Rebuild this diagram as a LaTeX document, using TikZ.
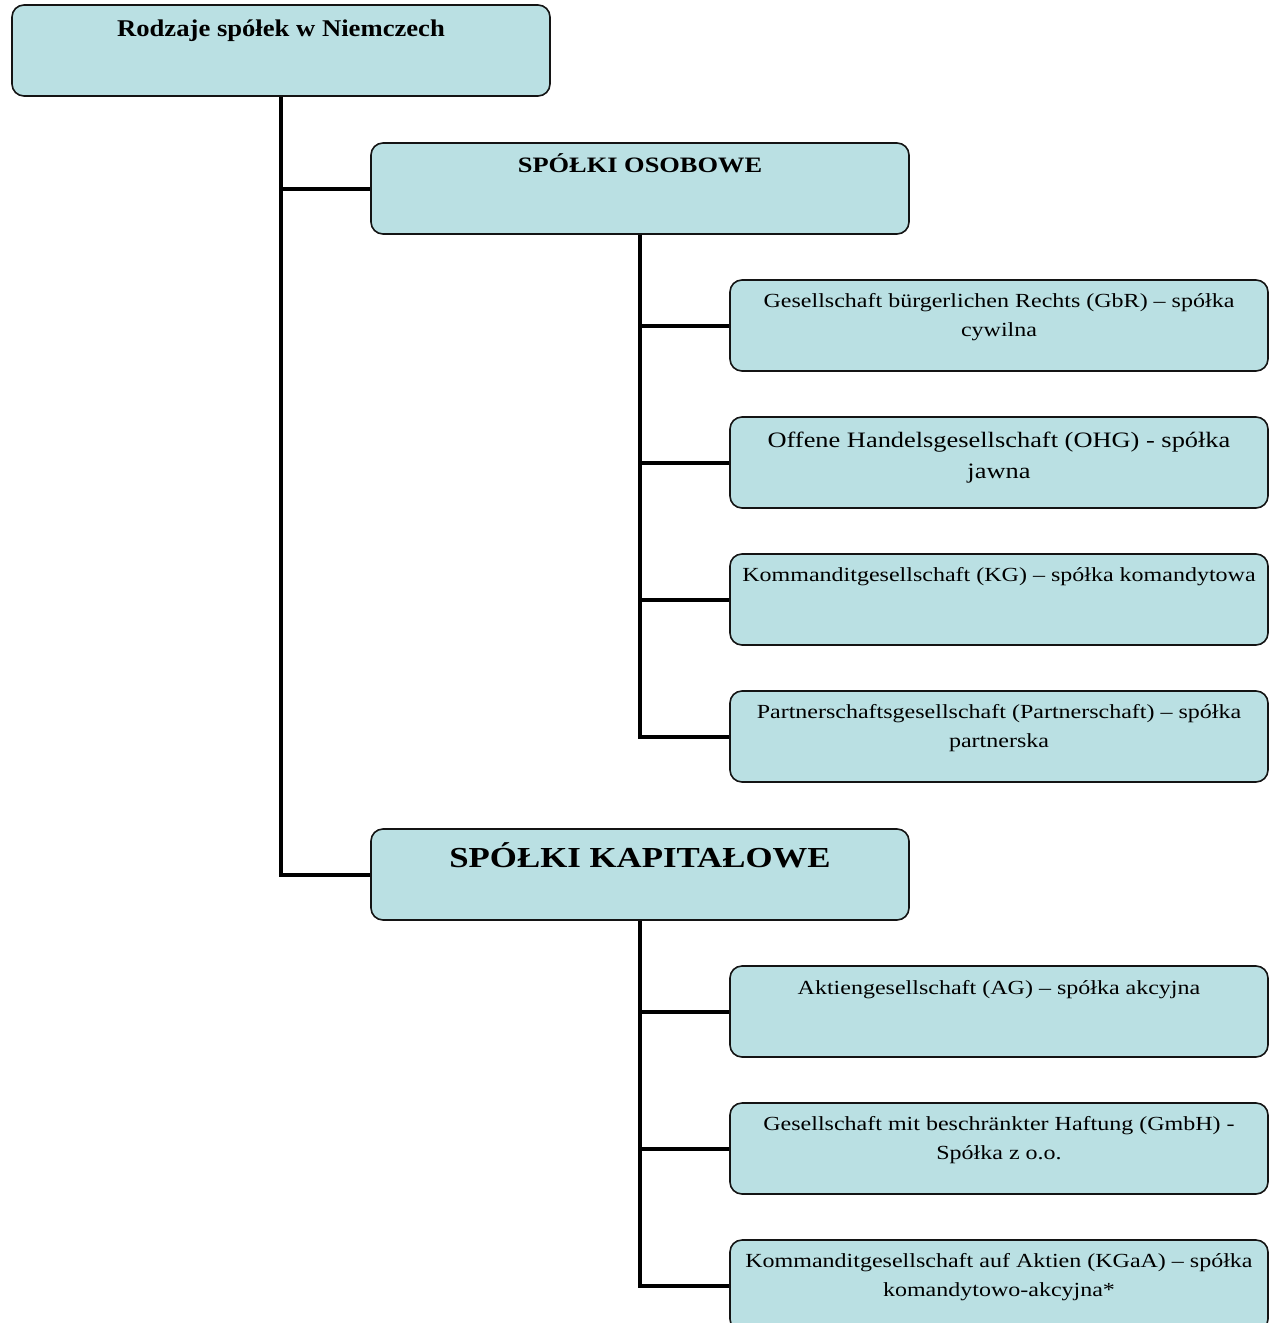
\documentclass[tikz,border=0pt]{standalone}
\usepackage{fontspec}
\setmainfont[FakeStretch=1.2]{Liberation Serif}
\newfontfamily\rootfont[FakeStretch=1.11]{Liberation Serif}
\definecolor{boxfill}{RGB}{186,224,227}
\definecolor{boxline}{RGB}{20,20,20}
\newcommand{\boxtxt}[4]{\parbox[t][91pt][t]{524pt}{\centering\fontsize{#2}{#3}\selectfont\rule{0pt}{#1}#4}}
\begin{document}
\begin{tikzpicture}[x=1pt,y=-1pt,
  card/.style={draw=boxline, line width=1.6pt, fill=boxfill, rounded corners=12pt,
    minimum width=538pt, minimum height=91pt, inner xsep=7pt, inner ysep=0pt, anchor=center},
  conn/.style={line width=4pt, line cap=butt}]
\useasboundingbox (0,0) rectangle (1269,1323);
\node[card] (root) at (281,50.5) {\boxtxt{31pt}{24}{28}{\rootfont\bfseries Rodzaje spółek w Niemczech}};
\node[card] (oso) at (640,188.5) {\boxtxt{29pt}{22}{28}{\bfseries SPÓŁKI OSOBOWE}};
\node[card] (kap) at (640,874.5) {\boxtxt{38pt}{29}{34}{\bfseries SPÓŁKI KAPITAŁOWE}};
\node[card] (gbr) at (999,325.5) {\boxtxt{27pt}{20}{29}{Gesellschaft bürgerlichen Rechts (GbR) – spółka cywilna}};
\node[card] (ohg) at (999,462.5) {\boxtxt{30pt}{22}{31}{Offene Handelsgesellschaft (OHG) - spółka jawna}};
\node[card] (kg) at (999,599.5) {\boxtxt{27pt}{20}{29}{Kommanditgesellschaft (KG) – spółka komandytowa}};
\node[card] (pg) at (999,736.5) {\boxtxt{27pt}{20}{29}{Partnerschaftsgesellschaft (Partnerschaft) – spółka partnerska}};
\node[card] (ag) at (999,1011.5) {\boxtxt{28pt}{20}{29}{Aktiengesellschaft (AG) – spółka akcyjna}};
\node[card] (gmbh) at (999,1148.5) {\boxtxt{27pt}{20}{29}{Gesellschaft mit beschränkter Haftung (GmbH) - Spółka z o.o.}};
\node[card] (kgaa) at (999,1285.5) {\boxtxt{27pt}{20}{29}{Kommanditgesellschaft auf Aktien (KGaA) – spółka komandytowo-akcyjna*}};
\draw[conn] (root.south) |- (oso.west);
\draw[conn] (root.south) |- (kap.west);
\draw[conn] (oso.south) |- (gbr.west);
\draw[conn] (oso.south) |- (ohg.west);
\draw[conn] (oso.south) |- (kg.west);
\draw[conn] (oso.south) |- (pg.west);
\draw[conn] (kap.south) |- (ag.west);
\draw[conn] (kap.south) |- (gmbh.west);
\draw[conn] (kap.south) |- (kgaa.west);
\end{tikzpicture}
\end{document}
